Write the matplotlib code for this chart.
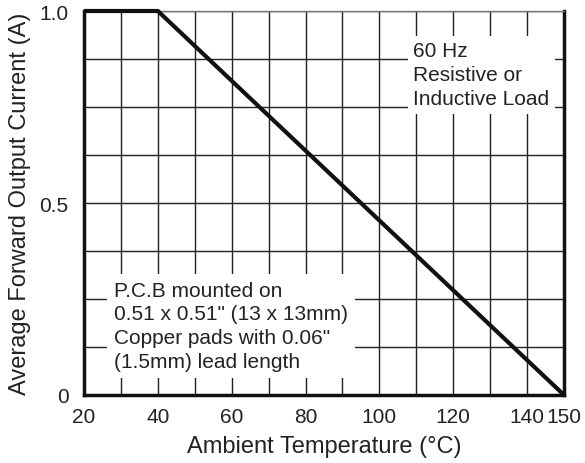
import matplotlib
matplotlib.use("Agg")
import matplotlib.pyplot as plt
import numpy as np

plt.rcParams['font.family'] = ['Liberation Sans', 'DejaVu Sans']

temp = [20, 40, 150]
current = [1.0, 1.0, 0.0]
xticks = [20, 40, 60, 80, 100, 120, 140, 150]
xticklabels = ['20', '40', '60', '80', '100', '120', '140', '150']
yticks = [0, 0.5, 1.0]
yticklabels = ['0', '0.5', '1.0']
xgrid = list(range(20, 151, 10))
ygrid = [i * 0.125 for i in range(9)]

fig = plt.figure(figsize=(5.85, 4.64), dpi=100)
ax = fig.add_axes([84/585, 68/464, 480/585, 384/464])
ax.set_xlim(20, 150)
ax.set_ylim(0, 1.0)

for x in xgrid:
    ax.axvline(x, color='#222222', lw=1.0, zorder=1)
for y in ygrid:
    ax.axhline(y, color='#222222', lw=1.0, zorder=1)

ax.plot(temp, current, color='#111111', lw=3, solid_capstyle='butt', zorder=4, clip_on=False)

ax.text(109.2, 0.921, "60 Hz\nResistive or\nInductive Load", fontsize=15, va='top', ha='left',
        linespacing=1.32, color='#222222', zorder=3,
        bbox=dict(facecolor='white', edgecolor='none', pad=4))
ax.text(28.1, 0.298, "P.C.B mounted on\n0.51 x 0.51\" (13 x 13mm)\nCopper pads with 0.06\"\n(1.5mm) lead length",
        fontsize=15, va='top', ha='left', linespacing=1.32, color='#222222', zorder=3,
        bbox=dict(facecolor='white', edgecolor='none', pad=5))

ax.set_xticks(xticks)
ax.set_xticklabels(xticklabels)
ax.set_yticks(yticks)
ax.set_yticklabels(yticklabels)
ax.tick_params(axis='x', length=0, labelsize=15, colors='#222222', pad=9)
ax.tick_params(axis='y', length=0, labelsize=15, colors='#222222', pad=11)
ax.set_xlabel("Ambient Temperature (°C)", fontsize=17, color='#222222', labelpad=6)
ax.set_ylabel("Average Forward Output Current (A)", fontsize=17, color='#222222', labelpad=6)

for s in ['left', 'bottom', 'right']:
    ax.spines[s].set_linewidth(2.5)
    ax.spines[s].set_color('#111111')
ax.spines['top'].set_linewidth(1.0)
ax.spines['top'].set_color('#777777')

fig.savefig("out.png", dpi=100)
